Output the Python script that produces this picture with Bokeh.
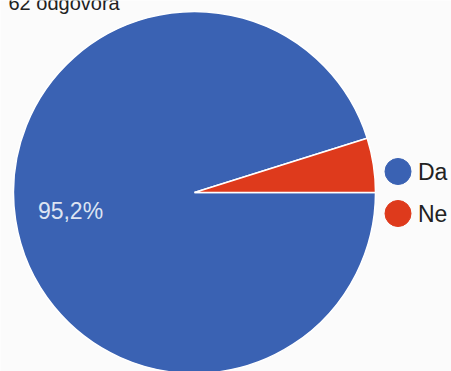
import numpy as np
from bokeh.plotting import figure
from bokeh.models import Range1d, ColumnDataSource
from bokeh.core.properties import value
from bokeh.embed import file_html
from bokeh.resources import INLINE

# ---- data ----
title_text = "62 odgovora"
categories = ["Da", "Ne"]
counts = [59, 3]
colors = ["#3a62b3", "#de3a1c"]

W, H = 451, 371
FONT = "Liberation Sans"

total = sum(counts)
shares = [c / total for c in counts]

# Ne drawn from 3 o'clock counter-clockwise, Da takes the rest
order = [1, 0]
starts, ends = {}, {}
acc = 0.0
for i in order:
    starts[i] = acc * 2 * np.pi
    acc += shares[i]
    ends[i] = acc * 2 * np.pi

src = ColumnDataSource(dict(
    cat=categories,
    start=[starts[i] for i in range(len(categories))],
    end=[ends[i] for i in range(len(categories))],
    color=colors,
))

p = figure(width=W, height=H, output_backend="svg", toolbar_location=None,
           x_axis_type=None, y_axis_type=None, min_border=0,
           x_range=Range1d(0, W), y_range=Range1d(0, H),
           background_fill_color="#fbfbfb", border_fill_color="#fbfbfb")
p.outline_line_color = None
p.grid.visible = False

cx, cy, r = 194, H - 192, 181
p.wedge(x=cx, y=cy, radius=r, start_angle="start", end_angle="end",
        fill_color="color", line_color="#ffffff", line_width=1.5, source=src)

# percentage label for the big slice
da_pct = f"{shares[0]*100:.1f}%".replace(".", ",")
p.text(x=[70], y=[H - 210], text=[da_pct], text_color="#dde4f2",
       text_font=value(FONT), text_font_size="23px",
       text_align="center", text_baseline="alphabetic")

# title (cut at the top, as in the reference)
p.text(x=[8], y=[H - 2], text=[title_text], text_color="#222222",
       text_font=value(FONT), text_font_size="20px",
       text_align="left", text_baseline="alphabetic")

# legend
lx, ly0, dy = 397.5, H - 171, -42
leg = ColumnDataSource(dict(
    x=[lx] * len(categories),
    y=[ly0 + k * dy for k in range(len(categories))],
    tx=[lx + 20] * len(categories),
    ty=[ly0 + k * dy for k in range(len(categories))],
    label=categories, color=colors,
))
p.scatter(x="x", y="y", size=26, marker="circle", fill_color="color",
          line_color="color", source=leg)
p.text(x="tx", y="ty", text="label", text_color="#222222",
       text_font=value(FONT), text_font_size="23px",
       text_align="left", text_baseline="alphabetic", source=leg)

open("out.html", "w").write(file_html(p, INLINE))
